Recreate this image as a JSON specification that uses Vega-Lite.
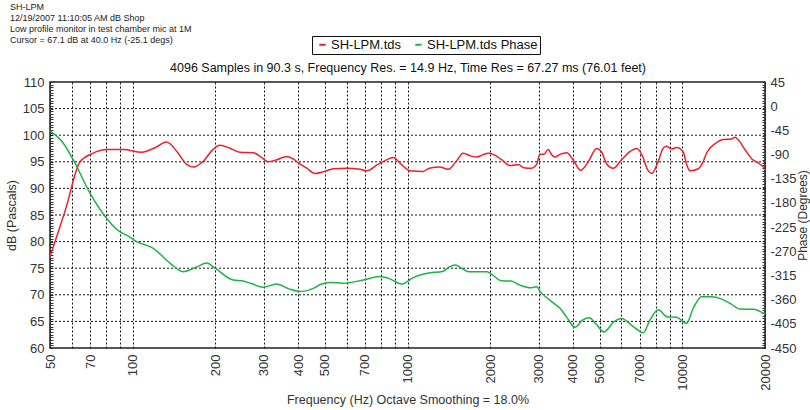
{
  "$schema": "https://vega.github.io/schema/vega-lite/v6.json",
  "width": 715,
  "height": 266,
  "autosize": {"type": "none"},
  "padding": {"left": 50, "top": 82, "right": 45, "bottom": 62},
  "background": "white",
  "config": {
    "font": "Liberation Sans",
    "view": {"stroke": "#222", "strokeWidth": 1.5},
    "axis": {"labelFont": "Liberation Sans", "titleFont": "Liberation Sans", "labelColor": "#333", "titleColor": "#333", "titleFontWeight": "normal", "labelFontSize": 13, "titleFontSize": 12.5}
  },
  "title": {
    "text": ["SH-LPM", "12/19/2007 11:10:05 AM dB Shop", "Low profile monitor in test chamber mic at 1M", "Cursor = 67.1 dB at 40.0 Hz (-25.1 degs)"],
    "anchor": "start",
    "frame": "group",
    "dx": -40,
    "dy": 24,
    "offset": 14,
    "fontSize": 9,
    "fontWeight": "normal",
    "color": "#222",
    "lineHeight": 11.3
  },
  "datasets": {
    "grid": [{"g": 65}, {"g": 70}, {"g": 75}, {"g": 80}, {"g": 85}, {"g": 90}, {"g": 95}, {"g": 100}, {"g": 105}],
    "mag": [
      {"f": 50, "db": 77.2, "series": "SH-LPM.tds"},
      {"f": 57, "db": 86.1, "series": "SH-LPM.tds"},
      {"f": 64.3, "db": 95.0, "series": "SH-LPM.tds"},
      {"f": 70.9, "db": 96.5, "series": "SH-LPM.tds"},
      {"f": 81.5, "db": 97.3, "series": "SH-LPM.tds"},
      {"f": 92.4, "db": 97.3, "series": "SH-LPM.tds"},
      {"f": 107.8, "db": 96.8, "series": "SH-LPM.tds"},
      {"f": 120, "db": 97.6, "series": "SH-LPM.tds"},
      {"f": 132.9, "db": 98.7, "series": "SH-LPM.tds"},
      {"f": 144.5, "db": 97.0, "series": "SH-LPM.tds"},
      {"f": 157.2, "db": 94.5, "series": "SH-LPM.tds"},
      {"f": 166.1, "db": 94.0, "series": "SH-LPM.tds"},
      {"f": 180.6, "db": 95.1, "series": "SH-LPM.tds"},
      {"f": 195, "db": 97.2, "series": "SH-LPM.tds"},
      {"f": 207.8, "db": 98.1, "series": "SH-LPM.tds"},
      {"f": 225, "db": 97.6, "series": "SH-LPM.tds"},
      {"f": 245.6, "db": 96.8, "series": "SH-LPM.tds"},
      {"f": 274.8, "db": 96.7, "series": "SH-LPM.tds"},
      {"f": 295, "db": 95.8, "series": "SH-LPM.tds"},
      {"f": 311.4, "db": 95.0, "series": "SH-LPM.tds"},
      {"f": 335, "db": 95.4, "series": "SH-LPM.tds"},
      {"f": 363.3, "db": 96.0, "series": "SH-LPM.tds"},
      {"f": 385, "db": 95.5, "series": "SH-LPM.tds"},
      {"f": 400.5, "db": 94.8, "series": "SH-LPM.tds"},
      {"f": 430, "db": 93.8, "series": "SH-LPM.tds"},
      {"f": 460.5, "db": 92.8, "series": "SH-LPM.tds"},
      {"f": 500, "db": 93.2, "series": "SH-LPM.tds"},
      {"f": 537, "db": 93.7, "series": "SH-LPM.tds"},
      {"f": 600, "db": 93.8, "series": "SH-LPM.tds"},
      {"f": 671, "db": 93.6, "series": "SH-LPM.tds"},
      {"f": 710, "db": 93.3, "series": "SH-LPM.tds"},
      {"f": 780, "db": 94.5, "series": "SH-LPM.tds"},
      {"f": 850, "db": 95.5, "series": "SH-LPM.tds"},
      {"f": 887.5, "db": 95.8, "series": "SH-LPM.tds"},
      {"f": 950, "db": 94.5, "series": "SH-LPM.tds"},
      {"f": 1021, "db": 93.3, "series": "SH-LPM.tds"},
      {"f": 1142, "db": 93.2, "series": "SH-LPM.tds"},
      {"f": 1200, "db": 93.8, "series": "SH-LPM.tds"},
      {"f": 1312, "db": 94.0, "series": "SH-LPM.tds"},
      {"f": 1407, "db": 93.6, "series": "SH-LPM.tds"},
      {"f": 1500, "db": 95.0, "series": "SH-LPM.tds"},
      {"f": 1596, "db": 96.6, "series": "SH-LPM.tds"},
      {"f": 1700, "db": 96.1, "series": "SH-LPM.tds"},
      {"f": 1785, "db": 95.9, "series": "SH-LPM.tds"},
      {"f": 1880, "db": 96.3, "series": "SH-LPM.tds"},
      {"f": 1968, "db": 96.6, "series": "SH-LPM.tds"},
      {"f": 2050, "db": 96.4, "series": "SH-LPM.tds"},
      {"f": 2200, "db": 95.4, "series": "SH-LPM.tds"},
      {"f": 2360, "db": 94.3, "series": "SH-LPM.tds"},
      {"f": 2530, "db": 94.5, "series": "SH-LPM.tds"},
      {"f": 2650, "db": 93.9, "series": "SH-LPM.tds"},
      {"f": 2831, "db": 93.8, "series": "SH-LPM.tds"},
      {"f": 2950, "db": 94.5, "series": "SH-LPM.tds"},
      {"f": 3033, "db": 96.4, "series": "SH-LPM.tds"},
      {"f": 3138, "db": 96.4, "series": "SH-LPM.tds"},
      {"f": 3253, "db": 97.3, "series": "SH-LPM.tds"},
      {"f": 3350, "db": 96.3, "series": "SH-LPM.tds"},
      {"f": 3441, "db": 95.9, "series": "SH-LPM.tds"},
      {"f": 3589, "db": 96.4, "series": "SH-LPM.tds"},
      {"f": 3797, "db": 96.7, "series": "SH-LPM.tds"},
      {"f": 4013, "db": 95.3, "series": "SH-LPM.tds"},
      {"f": 4266, "db": 93.4, "series": "SH-LPM.tds"},
      {"f": 4548, "db": 95.0, "series": "SH-LPM.tds"},
      {"f": 4879, "db": 97.5, "series": "SH-LPM.tds"},
      {"f": 5089, "db": 96.8, "series": "SH-LPM.tds"},
      {"f": 5307, "db": 94.6, "series": "SH-LPM.tds"},
      {"f": 5610, "db": 93.8, "series": "SH-LPM.tds"},
      {"f": 6015, "db": 95.4, "series": "SH-LPM.tds"},
      {"f": 6447, "db": 96.9, "series": "SH-LPM.tds"},
      {"f": 6822, "db": 97.5, "series": "SH-LPM.tds"},
      {"f": 7116, "db": 96.4, "series": "SH-LPM.tds"},
      {"f": 7518, "db": 93.3, "series": "SH-LPM.tds"},
      {"f": 7739, "db": 92.8, "series": "SH-LPM.tds"},
      {"f": 8178, "db": 95.1, "series": "SH-LPM.tds"},
      {"f": 8529, "db": 97.6, "series": "SH-LPM.tds"},
      {"f": 8750, "db": 97.9, "series": "SH-LPM.tds"},
      {"f": 9143, "db": 97.4, "series": "SH-LPM.tds"},
      {"f": 9544, "db": 97.7, "series": "SH-LPM.tds"},
      {"f": 10086, "db": 96.8, "series": "SH-LPM.tds"},
      {"f": 10371, "db": 94.5, "series": "SH-LPM.tds"},
      {"f": 10664, "db": 93.3, "series": "SH-LPM.tds"},
      {"f": 11431, "db": 93.7, "series": "SH-LPM.tds"},
      {"f": 11858, "db": 94.8, "series": "SH-LPM.tds"},
      {"f": 12270, "db": 96.7, "series": "SH-LPM.tds"},
      {"f": 13152, "db": 98.4, "series": "SH-LPM.tds"},
      {"f": 14095, "db": 99.2, "series": "SH-LPM.tds"},
      {"f": 15125, "db": 99.3, "series": "SH-LPM.tds"},
      {"f": 15549, "db": 99.6, "series": "SH-LPM.tds"},
      {"f": 15950, "db": 99.2, "series": "SH-LPM.tds"},
      {"f": 16909, "db": 97.3, "series": "SH-LPM.tds"},
      {"f": 18125, "db": 95.3, "series": "SH-LPM.tds"},
      {"f": 18903, "db": 94.8, "series": "SH-LPM.tds"},
      {"f": 20000, "db": 93.8, "series": "SH-LPM.tds"}
    ],
    "phase": [
      {"f": 50, "deg": -46, "series": "SH-LPM.tds Phase"},
      {"f": 55.9, "deg": -69, "series": "SH-LPM.tds Phase"},
      {"f": 60.8, "deg": -100, "series": "SH-LPM.tds Phase"},
      {"f": 69.9, "deg": -162, "series": "SH-LPM.tds Phase"},
      {"f": 80.4, "deg": -209, "series": "SH-LPM.tds Phase"},
      {"f": 89.9, "deg": -234, "series": "SH-LPM.tds Phase"},
      {"f": 95, "deg": -240, "series": "SH-LPM.tds Phase"},
      {"f": 103.4, "deg": -252, "series": "SH-LPM.tds Phase"},
      {"f": 118.8, "deg": -264.5, "series": "SH-LPM.tds Phase"},
      {"f": 136.6, "deg": -292, "series": "SH-LPM.tds Phase"},
      {"f": 152.8, "deg": -308, "series": "SH-LPM.tds Phase"},
      {"f": 171, "deg": -299, "series": "SH-LPM.tds Phase"},
      {"f": 185.9, "deg": -292, "series": "SH-LPM.tds Phase"},
      {"f": 200, "deg": -302, "series": "SH-LPM.tds Phase"},
      {"f": 232.3, "deg": -323.5, "series": "SH-LPM.tds Phase"},
      {"f": 250, "deg": -325, "series": "SH-LPM.tds Phase"},
      {"f": 270, "deg": -330, "series": "SH-LPM.tds Phase"},
      {"f": 298.6, "deg": -337, "series": "SH-LPM.tds Phase"},
      {"f": 334, "deg": -331, "series": "SH-LPM.tds Phase"},
      {"f": 370, "deg": -340, "series": "SH-LPM.tds Phase"},
      {"f": 406, "deg": -345, "series": "SH-LPM.tds Phase"},
      {"f": 454, "deg": -339, "series": "SH-LPM.tds Phase"},
      {"f": 487, "deg": -331, "series": "SH-LPM.tds Phase"},
      {"f": 523, "deg": -328, "series": "SH-LPM.tds Phase"},
      {"f": 580, "deg": -329.6, "series": "SH-LPM.tds Phase"},
      {"f": 690, "deg": -323.5, "series": "SH-LPM.tds Phase"},
      {"f": 793, "deg": -317, "series": "SH-LPM.tds Phase"},
      {"f": 850, "deg": -320, "series": "SH-LPM.tds Phase"},
      {"f": 952, "deg": -331, "series": "SH-LPM.tds Phase"},
      {"f": 1049, "deg": -319, "series": "SH-LPM.tds Phase"},
      {"f": 1180, "deg": -311, "series": "SH-LPM.tds Phase"},
      {"f": 1349, "deg": -307, "series": "SH-LPM.tds Phase"},
      {"f": 1420, "deg": -299, "series": "SH-LPM.tds Phase"},
      {"f": 1489, "deg": -295.6, "series": "SH-LPM.tds Phase"},
      {"f": 1580, "deg": -302, "series": "SH-LPM.tds Phase"},
      {"f": 1666, "deg": -308, "series": "SH-LPM.tds Phase"},
      {"f": 1941, "deg": -308, "series": "SH-LPM.tds Phase"},
      {"f": 2201, "deg": -325, "series": "SH-LPM.tds Phase"},
      {"f": 2380, "deg": -325.5, "series": "SH-LPM.tds Phase"},
      {"f": 2566, "deg": -333, "series": "SH-LPM.tds Phase"},
      {"f": 2800, "deg": -338, "series": "SH-LPM.tds Phase"},
      {"f": 2960, "deg": -336, "series": "SH-LPM.tds Phase"},
      {"f": 3034, "deg": -345, "series": "SH-LPM.tds Phase"},
      {"f": 3120, "deg": -351, "series": "SH-LPM.tds Phase"},
      {"f": 3393, "deg": -366, "series": "SH-LPM.tds Phase"},
      {"f": 3589, "deg": -376, "series": "SH-LPM.tds Phase"},
      {"f": 3800, "deg": -393, "series": "SH-LPM.tds Phase"},
      {"f": 4068, "deg": -411.5, "series": "SH-LPM.tds Phase"},
      {"f": 4335, "deg": -398, "series": "SH-LPM.tds Phase"},
      {"f": 4586, "deg": -393.6, "series": "SH-LPM.tds Phase"},
      {"f": 4850, "deg": -405, "series": "SH-LPM.tds Phase"},
      {"f": 5188, "deg": -420, "series": "SH-LPM.tds Phase"},
      {"f": 5641, "deg": -401, "series": "SH-LPM.tds Phase"},
      {"f": 6011, "deg": -395, "series": "SH-LPM.tds Phase"},
      {"f": 6627, "deg": -410, "series": "SH-LPM.tds Phase"},
      {"f": 7209, "deg": -421.6, "series": "SH-LPM.tds Phase"},
      {"f": 7624, "deg": -398, "series": "SH-LPM.tds Phase"},
      {"f": 8178, "deg": -379, "series": "SH-LPM.tds Phase"},
      {"f": 8800, "deg": -392, "series": "SH-LPM.tds Phase"},
      {"f": 9544, "deg": -393, "series": "SH-LPM.tds Phase"},
      {"f": 10371, "deg": -404, "series": "SH-LPM.tds Phase"},
      {"f": 10962, "deg": -376, "series": "SH-LPM.tds Phase"},
      {"f": 11759, "deg": -354.5, "series": "SH-LPM.tds Phase"},
      {"f": 12789, "deg": -354.5, "series": "SH-LPM.tds Phase"},
      {"f": 13912, "deg": -359, "series": "SH-LPM.tds Phase"},
      {"f": 14914, "deg": -367, "series": "SH-LPM.tds Phase"},
      {"f": 16218, "deg": -377.5, "series": "SH-LPM.tds Phase"},
      {"f": 18125, "deg": -378, "series": "SH-LPM.tds Phase"},
      {"f": 20000, "deg": -387, "series": "SH-LPM.tds Phase"}
    ]
  },
  "layer": [
    {
      "data": {"name": "grid"},
      "mark": {"type": "rule", "color": "#111", "strokeDash": [2, 2], "strokeWidth": 1},
      "encoding": {
        "y": {"field": "g", "type": "quantitative", "scale": {"domain": [60, 110], "nice": false, "zero": false}, "axis": null}
      }
    },
    {
      "data": {"name": "mag"},
      "mark": {"type": "line", "strokeWidth": 1.5, "interpolate": "monotone", "clip": true},
      "encoding": {
        "x": {
          "field": "f", "type": "quantitative",
          "scale": {"type": "log", "domain": [50, 20000], "nice": false},
          "axis": {
            "orient": "bottom",
            "title": "Frequency (Hz) Octave Smoothing = 18.0%",
            "titlePadding": 3,
            "values": [50, 60, 70, 80, 90, 100, 200, 300, 400, 500, 600, 700, 800, 900, 1000, 2000, 3000, 4000, 5000, 6000, 7000, 8000, 9000, 10000, 20000],
            "labelExpr": "indexof([50,70,100,200,300,400,500,700,1000,2000,3000,4000,5000,7000,10000,20000], datum.value) >= 0 ? datum.value + '' : ''",
            "labelAngle": -90,
            "labelPadding": 6,
            "labelOverlap": false,
            "ticks": false,
            "domain": false,
            "grid": true,
            "gridColor": "#111",
            "gridDash": [2, 2],
            "gridWidth": 1
          }
        },
        "y": {
          "field": "db", "type": "quantitative",
          "scale": {"domain": [60, 110], "nice": false, "zero": false},
          "axis": {
            "orient": "left",
            "offset": -3,
            "title": "dB (Pascals)",
            "values": [60, 60.5, 61, 61.5, 62, 62.5, 63, 63.5, 64, 64.5, 65, 65.5, 66, 66.5, 67, 67.5, 68, 68.5, 69, 69.5, 70, 70.5, 71, 71.5, 72, 72.5, 73, 73.5, 74, 74.5, 75, 75.5, 76, 76.5, 77, 77.5, 78, 78.5, 79, 79.5, 80, 80.5, 81, 81.5, 82, 82.5, 83, 83.5, 84, 84.5, 85, 85.5, 86, 86.5, 87, 87.5, 88, 88.5, 89, 89.5, 90, 90.5, 91, 91.5, 92, 92.5, 93, 93.5, 94, 94.5, 95, 95.5, 96, 96.5, 97, 97.5, 98, 98.5, 99, 99.5, 100, 100.5, 101, 101.5, 102, 102.5, 103, 103.5, 104, 104.5, 105, 105.5, 106, 106.5, 107, 107.5, 108, 108.5, 109, 109.5, 110],
            "labelExpr": "datum.value % 5 == 0 ? datum.value + '' : ''",
            "labelOverlap": false,
            "ticks": true,
            "tickSize": 3,
            "tickColor": "#333",
            "tickWidth": 1,
            "domain": false,
            "labelPadding": 6,
            "titlePadding": 4,
            "grid": false
          }
        },
        "color": {
          "field": "series", "type": "nominal",
          "scale": {"domain": ["SH-LPM.tds", "SH-LPM.tds Phase"], "range": ["#ee1f2b", "#1db345"]},
          "legend": {
            "title": null,
            "orient": "none",
            "legendX": 262,
            "legendY": -46,
            "direction": "horizontal",
            "strokeColor": "#111",
            "fillColor": "white",
            "padding": 2,
            "symbolType": "stroke",
            "symbolStrokeWidth": 2,
            "symbolSize": 40,
            "labelFontSize": 13,
            "labelColor": "#111",
            "labelFont": "Liberation Sans",
            "labelOffset": 2,
            "columnPadding": 8,
            "symbolOffset": 2
          }
        }
      }
    },
    {
      "data": {"name": "phase"},
      "mark": {"type": "line", "strokeWidth": 1.5, "interpolate": "monotone", "clip": true},
      "encoding": {
        "x": {
          "field": "f", "type": "quantitative",
          "scale": {"type": "log", "domain": [50, 20000], "nice": false},
          "axis": {
            "orient": "top",
            "title": "4096 Samples in 90.3 s, Frequency Res. = 14.9 Hz, Time Res = 67.27 ms (76.01 feet)",
            "titleFontSize": 12.5,
            "titleColor": "#111",
            "titlePadding": 8,
            "labels": false,
            "ticks": false,
            "domain": false,
            "grid": false
          }
        },
        "y": {
          "field": "deg", "type": "quantitative",
          "scale": {"domain": [-450, 45], "nice": false, "zero": false},
          "axis": {
            "orient": "right",
            "offset": -3,
            "title": "Phase (Degrees)",
            "titleAngle": 270,
            "titleFontSize": 12,
            "values": [-450, -445, -440, -435, -430, -425, -420, -415, -410, -405, -400, -395, -390, -385, -380, -375, -370, -365, -360, -355, -350, -345, -340, -335, -330, -325, -320, -315, -310, -305, -300, -295, -290, -285, -280, -275, -270, -265, -260, -255, -250, -245, -240, -235, -230, -225, -220, -215, -210, -205, -200, -195, -190, -185, -180, -175, -170, -165, -160, -155, -150, -145, -140, -135, -130, -125, -120, -115, -110, -105, -100, -95, -90, -85, -80, -75, -70, -65, -60, -55, -50, -45, -40, -35, -30, -25, -20, -15, -10, -5, 0, 5, 10, 15, 20, 25, 30, 35, 40, 45],
            "labelExpr": "datum.value % 45 == 0 ? datum.value + '' : ''",
            "labelOverlap": false,
            "ticks": true,
            "tickSize": 3,
            "tickColor": "#333",
            "tickWidth": 1,
            "domain": false,
            "grid": false,
            "labelPadding": 5,
            "titlePadding": 13
          }
        },
        "color": {"field": "series", "type": "nominal"}
      }
    }
  ],
  "resolve": {"scale": {"y": "independent"}, "axis": {"x": "independent"}}
}
